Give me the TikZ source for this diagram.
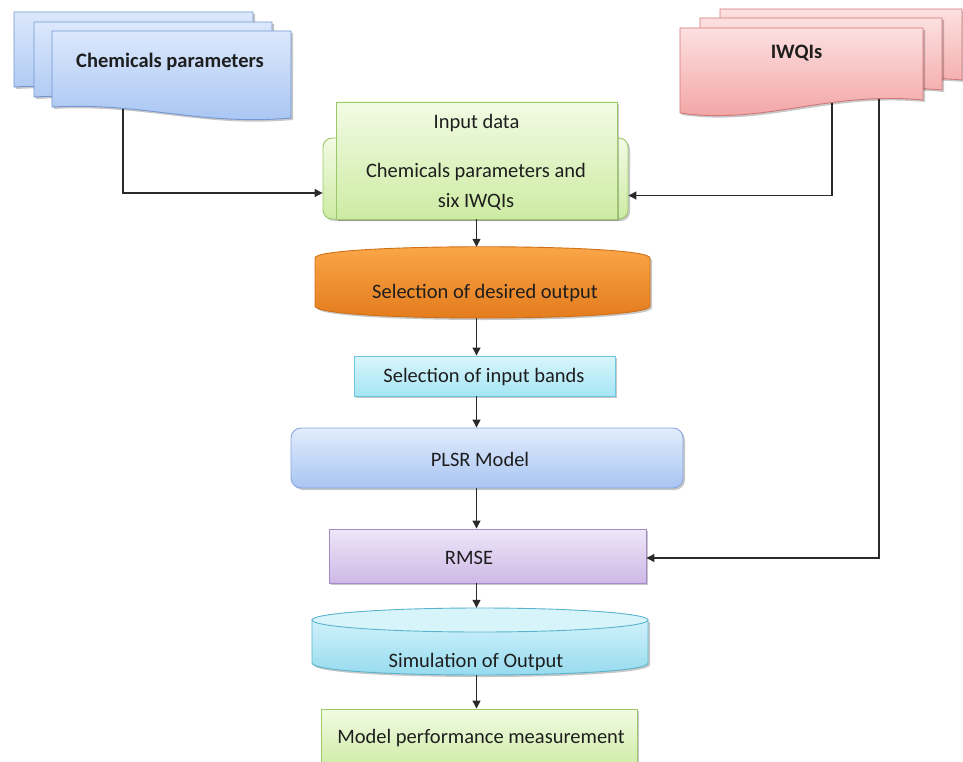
\documentclass[tikz,border=0pt]{standalone}
\usepackage{fontspec}
\setmainfont{Carlito}
\usetikzlibrary{shadows,arrows.meta,calc}
\definecolor{txt}{HTML}{1E1E1E}
\definecolor{lnc}{HTML}{2A2A2A}
\newcommand{\chemsheet}[4]{%
  \draw[chemst] (#1,#2) -- (#3,#2) -- (#3,{#4+11}) .. controls ({#1+0.62*(#3-#1)},{#4+19}) and ({#1+0.38*(#3-#1)},{#4-5}) .. (#1,#4) -- cycle;}
\newcommand{\iwsheet}[4]{%
  \draw[iwst] (#1,#2) -- (#3,#2) -- (#3,{#4-13}) .. controls ({#1+0.6*(#3-#1)},{#4-22}) and ({#1+0.35*(#3-#1)},{#4+12}) .. (#1,#4) -- cycle;}
\begin{document}
\begin{tikzpicture}[x=1pt,y=-1pt,
  shd/.style={drop shadow={shadow xshift=2pt,shadow yshift=-2pt,opacity=0.22,fill=black}},
  arr/.style={draw=lnc,line width=1.2pt,-{Triangle[length=8pt,width=8pt]}},
  lbl/.style={font=\fontsize{20.5}{24}\selectfont,text=txt,inner sep=0pt},
  lblb/.style={font=\fontsize{20.5}{24}\selectfont\bfseries,text=txt,inner sep=0pt},
  anch/.style={draw=none,fill=none,inner sep=0pt},
  chemst/.style={draw={rgb,255:red,116;green,150;blue,210},line width=0.9pt,top color={rgb,255:red,220;green,232;blue,252},bottom color={rgb,255:red,166;green,196;blue,242},shd},
  iwst/.style={draw={rgb,255:red,211;green,119;blue,119},line width=0.9pt,top color={rgb,255:red,253;green,224;blue,224},bottom color={rgb,255:red,242;green,160;blue,160},shd},
  greenst/.style={draw={rgb,255:red,156;green,200;blue,106},line width=0.9pt,top color={rgb,255:red,242;green,251;blue,228},bottom color={rgb,255:red,205;green,235;blue,163},shd},
  orst/.style={draw={rgb,255:red,208;green,112;blue,24},line width=0.9pt,top color={rgb,255:red,251;green,168;blue,74},bottom color={rgb,255:red,226;green,122;blue,27},shd},
  bandst/.style={draw={rgb,255:red,108;green,198;blue,221},line width=0.9pt,top color={rgb,255:red,217;green,246;blue,252},bottom color={rgb,255:red,165;green,229;blue,244},shd},
  plsrst/.style={draw={rgb,255:red,134;green,167;blue,219},line width=0.9pt,top color={rgb,255:red,226;green,236;blue,252},bottom color={rgb,255:red,169;green,197;blue,243},shd},
  rmsest/.style={draw={rgb,255:red,164;green,139;blue,199},line width=0.9pt,top color={rgb,255:red,239;green,230;blue,248},bottom color={rgb,255:red,205;green,185;blue,230},shd},
  simst/.style={draw={rgb,255:red,90;green,179;blue,204},line width=0.9pt,top color={rgb,255:red,207;green,241;blue,250},bottom color={rgb,255:red,147;green,218;blue,238},shd},
  simtop/.style={draw={rgb,255:red,90;green,179;blue,204},line width=0.9pt,fill={rgb,255:red,216;green,244;blue,251}}
]
\useasboundingbox (0,0) rectangle (963,762);
\fill[white] (0,0) rectangle (963,762);

% Input data
\node[greenst,rounded corners=9pt,minimum width=305pt,minimum height=81pt] (inback) at (475.5,178.5) {};
\node[greenst,minimum width=281pt,minimum height=117pt] (infront) at (476.5,160.5) {};
\node[lbl] (tin1) at (476.5,123) {Input data};
\node[lbl,align=center,font=\fontsize{20.5}{30}\selectfont] (tin2) at (476,187) {Chemicals parameters and\\six IWQIs};

% Selection of desired output
\draw[orst] (315,258) .. controls (315,243) and (650,243) .. (650,258) -- (650,306) .. controls (650,322) and (315,322) .. (315,306) -- cycle;
\node[anch,minimum width=335pt,minimum height=71pt] (desired) at (482.5,282.5) {};
\node[lbl] (tdes) at (485,293) {Selection of desired output};

% Selection of input bands
\node[bandst,minimum width=261pt,minimum height=40pt] (bands) at (484.5,376) {};
\node[lbl] (tbands) at (484,377) {Selection of input bands};

% PLSR
\node[plsrst,rounded corners=10pt,minimum width=392pt,minimum height=60pt] (plsr) at (487,458) {};
\node[lbl] (tplsr) at (480,459) {PLSR Model};

% RMSE
\node[rmsest,minimum width=317pt,minimum height=54pt] (rmse) at (487.5,556) {};
\node[lbl] (trmse) at (469,558) {RMSE};

% Simulation cylinder
\draw[simst] (312,620) -- (312,663) .. controls (312,679) and (648,679) .. (648,663) -- (648,620) -- cycle;
\draw[simtop] (480,620) ellipse [x radius=168pt,y radius=12pt];
\node[anch,minimum width=336pt,minimum height=67pt] (sim) at (480,641.5) {};
\node[lbl] (tsim) at (476,662) {Simulation of Output};

% Model performance
\node[greenst,minimum width=316pt,minimum height=60pt] (model) at (479,739) {};
\node[lbl] (tmodel) at (481,738) {Model performance measurement};

% vertical flow
\draw[arr] (infront.south) -- (infront.south |- desired.north);
\draw[arr] (infront.south |- desired.south) -- (infront.south |- bands.north);
\draw[arr] (infront.south |- bands.south) -- (infront.south |- plsr.north);
\draw[arr] (infront.south |- plsr.south) -- (infront.south |- rmse.north);
\draw[arr] (infront.south |- rmse.south) -- (infront.south |- sim.north);
\draw[arr] (infront.south |- sim.south) -- (infront.south |- model.north);

% side connectors
\coordinate (chemA) at (123,100);
\coordinate (iwA) at (832,95);
\coordinate (iwB) at (879,95);
\draw[arr] (chemA) |- ([yshift=-14.5pt]inback.west);
\draw[arr] (iwA) |- ([yshift=-17pt]inback.east);
\draw[arr] (iwB) |- ([yshift=-2pt]rmse.east);

% Chemicals parameters sheets
\chemsheet{14}{12}{253}{87}
\chemsheet{34}{22}{272}{97}
\chemsheet{52}{31}{291}{107}
\node[lblb] (tchem) at (170,62) {Chemicals parameters};

% IWQIs sheets
\iwsheet{720}{9}{962}{93}
\iwsheet{700}{18}{942}{103}
\iwsheet{680}{28}{923}{113}
\node[lblb] (tiw) at (796.5,53) {IWQIs};
\end{tikzpicture}
\end{document}
